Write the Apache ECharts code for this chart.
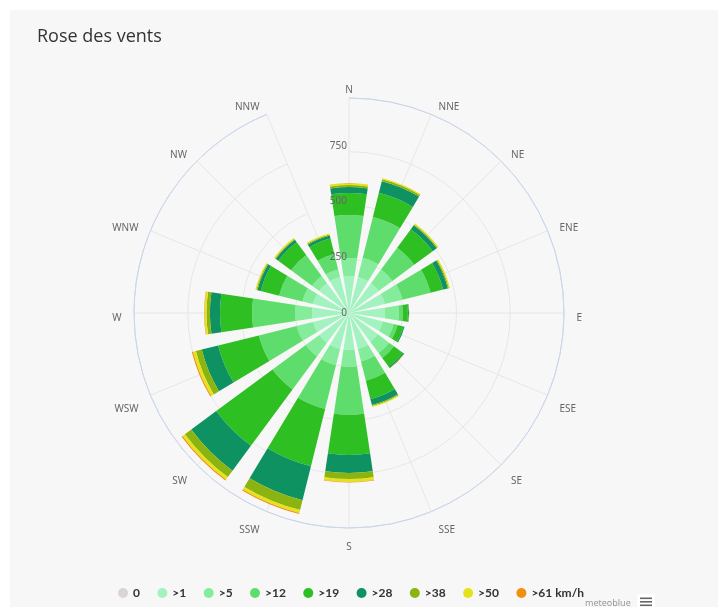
<!DOCTYPE html>
<html>
<head>
<meta charset="utf-8">
<script src="https://cdn.jsdelivr.net/npm/echarts@6/dist/echarts.min.js"></script>
<style>
  html, body { margin: 0; padding: 0; background: #ffffff; }
  #wrap { position: relative; width: 718px; height: 607px; background: #ffffff; overflow: hidden; }
  #panel { position: absolute; left: 10px; top: 10px; width: 708px; height: 597px; background: #f7f7f7; }
  #chart { position: absolute; left: 0; top: 0; width: 718px; height: 607px; }
</style>
</head>
<body>
<div id="wrap"><div id="panel"></div><div id="chart"></div></div>
<script>
const directions = ['N','NNE','NE','ENE','E','ESE','SE','SSE','S','SSW','SW','WSW','W','WNW','NW','NNW'];
const speedClasses = ['0','>1','>5','>12','>19','>28','>38','>50','>61 km/h'];
const radiusTicks = [0, 250, 500, 750, 1000];

// frequency per direction (N .. NNW) for each speed class
const calm  = [0,0,0,0,0,0,0,0,0,0,0,0,0,0,0,0];
const gt1   = [172,172,172,172,167,163,167,172,172,172,172,172,172,172,172,172];
const gt5   = [84,93,79,84,65,51,65,60,79,79,79,79,79,51,42,37];
const gt12  = [200,195,126,135,19,19,28,93,223,209,191,181,200,112,121,74];
const gt19  = [102,116,107,60,23,28,51,88,186,274,326,195,149,88,74,74];
const gt28  = [28,56,23,23,5,5,7,28,84,163,144,79,47,16,14,14];
const gt38  = [9,9,5,5,1,0,2,5,28,47,37,28,16,5,5,5];
const gt50  = [9,5,5,5,1,0,0,5,14,14,14,14,9,5,5,5];
const gt61  = [0,0,0,0,0,0,0,0,2,5,5,5,2,0,0,0];

const classValues = [calm, gt1, gt5, gt12, gt19, gt28, gt38, gt50, gt61];
const classColors = ['#dad3d7','#a2f3bf','#84ec9b','#5fdd6c','#2ebf22','#0e9262','#8cb410','#e4e21a','#f0900f'];

const chart = echarts.init(document.getElementById('chart'), null, { renderer: 'canvas' });

const series = speedClasses.map((name, i) => ({
  name: name,
  type: 'bar',
  coordinateSystem: 'polar',
  polarIndex: 0,
  stack: 'wind',
  data: classValues[i],
  barCategoryGap: '24%',
  itemStyle: { color: classColors[i] },
  emphasis: { disabled: true },
  z: 2
}));

const labelFont = { color: '#666666', fontSize: 10, fontFamily: 'Noto Sans' };

chart.setOption({
  animation: false,
  backgroundColor: 'transparent',
  color: classColors,
  title: {
    text: 'Rose des vents',
    left: 37,
    top: 28,
    padding: 0,
    textStyle: { fontFamily: 'Open Sans', fontSize: 18, fontWeight: 'normal', color: '#333333' }
  },
  legend: {
    data: speedClasses,
    left: 118,
    top: 587,
    icon: 'circle',
    itemWidth: 10,
    itemHeight: 10,
    itemGap: 17.4,
    padding: 0,
    textStyle: { fontFamily: 'Lato', fontSize: 12, fontWeight: 'bold', color: '#333333' }
  },
  polar: [
    { center: [349, 313], radius: 215 },
    { center: [349, 318.5], radius: 215 },
    { center: [349, 313], radius: 223 }
  ],
  angleAxis: [
    {
      polarIndex: 0,
      type: 'category',
      data: directions,
      boundaryGap: false,
      startAngle: 90,
      clockwise: true,
      axisLine: { show: true, lineStyle: { color: '#ccd6eb', width: 1 } },
      axisTick: { show: false },
      axisLabel: { show: false },
      splitLine: { show: true, lineStyle: { color: '#e6e6e6', width: 1 } },
      z: 1
    },
    {
      polarIndex: 1,
      type: 'category',
      data: directions,
      boundaryGap: false,
      startAngle: 90,
      clockwise: true,
      axisLine: { show: false },
      axisTick: { show: false },
      splitLine: { show: false },
      axisLabel: Object.assign({ margin: 8.5, padding: [0, 4, 0, 4] }, labelFont),
      z: 1
    },
    {
      polarIndex: 2,
      type: 'category',
      data: directions,
      boundaryGap: false,
      startAngle: 90,
      show: false
    }
  ],
  radiusAxis: [
    {
      polarIndex: 0,
      type: 'value',
      min: radiusTicks[0],
      max: radiusTicks[radiusTicks.length - 1],
      interval: radiusTicks[1] - radiusTicks[0],
      axisLine: { show: false },
      axisTick: { show: false },
      axisLabel: { show: false },
      splitLine: { show: true, lineStyle: { color: ['#e6e6e6','#e6e6e6','#e6e6e6','#e6e6e6','#ccd6eb'], width: 1 } },
      z: 0
    },
    {
      polarIndex: 1,
      type: 'value',
      min: radiusTicks[0],
      max: radiusTicks[radiusTicks.length - 1],
      show: false
    },
    {
      polarIndex: 2,
      type: 'value',
      min: radiusTicks[0],
      max: radiusTicks[radiusTicks.length - 1],
      interval: radiusTicks[1] - radiusTicks[0],
      axisLine: { show: false },
      axisTick: { show: false },
      splitLine: { show: false },
      axisLabel: Object.assign({ showMaxLabel: false, margin: 2 }, labelFont),
      z: 10
    }
  ],
  graphic: [
    { type: 'text', left: 585, top: 599, style: { text: 'meteoblue', fill: '#999999', font: '9px "Noto Sans"' } },
    { type: 'rect', shape: { x: 637, y: 594, width: 18, height: 13, r: 2 }, style: { fill: '#ffffff' } },
    { type: 'rect', shape: { x: 640, y: 597.5, width: 12, height: 1.6 }, style: { fill: '#666666' } },
    { type: 'rect', shape: { x: 640, y: 601, width: 12, height: 1.6 }, style: { fill: '#666666' } },
    { type: 'rect', shape: { x: 640, y: 604.5, width: 12, height: 1.6 }, style: { fill: '#666666' } }
  ],
  series: series
});
</script>
</body>
</html>
